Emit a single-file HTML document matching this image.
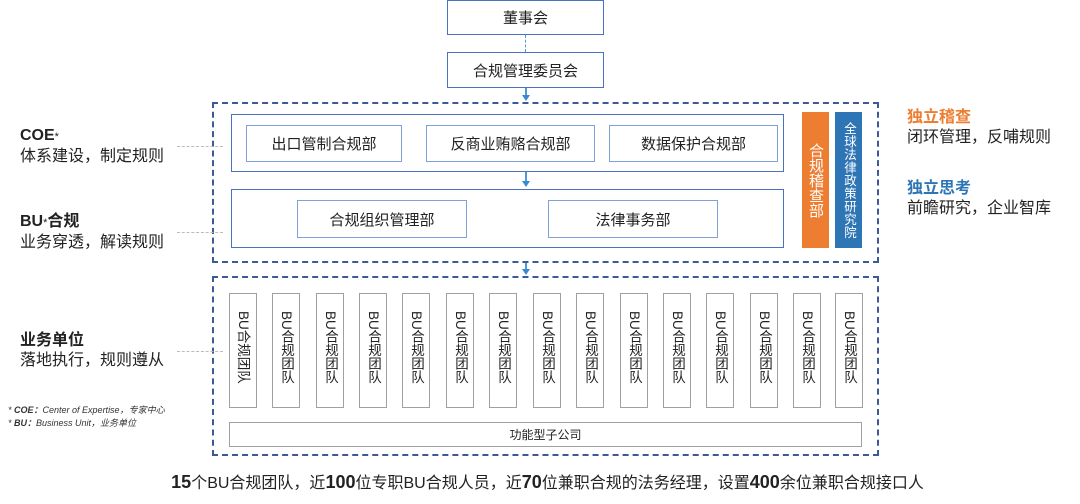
<!DOCTYPE html>
<html><head><meta charset="utf-8"><style>
body{margin:0;width:1080px;height:504px;background:#fff;position:relative;overflow:hidden;font-family:"Liberation Sans","Noto Sans CJK SC",sans-serif;color:#222}
div{box-sizing:border-box}
.a{position:absolute}
.b{position:absolute;border:1.5px solid #4a72c0;background:#fff;display:flex;align-items:center;justify-content:center;font-size:15px}
.i{position:absolute;border:1.5px solid #7fa1d6;display:flex;align-items:center;justify-content:center;font-size:15px;background:#fff}
.d{position:absolute;border:2px dashed #3b5a96}
.g{position:absolute;border:1.5px solid #a0a0a0;background:#fff;padding-top:17px;font-size:13.5px;writing-mode:vertical-rl;line-height:26px;text-align:start}
.v{position:absolute;width:1.5px;background:#4a9ad8}
.ar{position:absolute;width:0;height:0;border-left:4px solid transparent;border-right:4px solid transparent;border-top:6px solid #3a8ad0}
.gl{position:absolute;height:0;border-top:1px dashed #bbb}
.lt{position:absolute;font-size:15px;line-height:20px}
</style></head><body>
<div class="b" style="left:447px;top:0;width:157px;height:35px">董事会</div>
<div class="a" style="left:525px;top:35px;height:17px;border-left:1.5px dashed #4a9ad8"></div>
<div class="b" style="left:447px;top:52px;width:157px;height:36px">合规管理委员会</div>
<div class="v" style="left:525px;top:88px;height:8px"></div><div class="ar" style="left:522px;top:95px"></div>
<div class="d" style="left:212px;top:102px;width:667px;height:161px"></div>
<div class="b" style="left:231px;top:114px;width:553px;height:58px"></div>
<div class="i" style="left:246px;top:125px;width:156px;height:37px">出口管制合规部</div>
<div class="i" style="left:426px;top:125px;width:169px;height:37px">反商业贿赂合规部</div>
<div class="i" style="left:609px;top:125px;width:169px;height:37px">数据保护合规部</div>
<div class="v" style="left:525px;top:172px;height:10px"></div><div class="ar" style="left:522px;top:181px"></div>
<div class="b" style="left:231px;top:189px;width:553px;height:59px"></div>
<div class="i" style="left:297px;top:200px;width:170px;height:38px">合规组织管理部</div>
<div class="i" style="left:548px;top:200px;width:170px;height:38px">法律事务部</div>
<div class="a" style="left:802px;top:112px;width:27px;height:136px;background:#ed7d31;color:#fff;writing-mode:vertical-rl;font-size:15px;display:flex;align-items:center;justify-content:center;line-height:27px">合规稽查部</div>
<div class="a" style="left:835px;top:112px;width:27px;height:136px;background:#2e75b6;color:#fff;writing-mode:vertical-rl;font-size:12.5px;display:flex;align-items:center;justify-content:center;line-height:27px;letter-spacing:0.5px">全球法律政策研究院</div>
<div class="v" style="left:525px;top:263px;height:7px"></div><div class="ar" style="left:522px;top:269px"></div>
<div class="d" style="left:212px;top:276px;width:667px;height:180px"></div>
<div class="g" style="left:229px;top:293px;width:28px;height:115px;text-orientation:sideways">BU合规团队</div>
<div class="g" style="left:272px;top:293px;width:28px;height:115px">BU合规团队</div>
<div class="g" style="left:316px;top:293px;width:28px;height:115px">BU合规团队</div>
<div class="g" style="left:359px;top:293px;width:28px;height:115px">BU合规团队</div>
<div class="g" style="left:402px;top:293px;width:28px;height:115px">BU合规团队</div>
<div class="g" style="left:446px;top:293px;width:28px;height:115px">BU合规团队</div>
<div class="g" style="left:489px;top:293px;width:28px;height:115px">BU合规团队</div>
<div class="g" style="left:533px;top:293px;width:28px;height:115px">BU合规团队</div>
<div class="g" style="left:576px;top:293px;width:28px;height:115px">BU合规团队</div>
<div class="g" style="left:620px;top:293px;width:28px;height:115px">BU合规团队</div>
<div class="g" style="left:663px;top:293px;width:28px;height:115px">BU合规团队</div>
<div class="g" style="left:706px;top:293px;width:28px;height:115px">BU合规团队</div>
<div class="g" style="left:750px;top:293px;width:28px;height:115px">BU合规团队</div>
<div class="g" style="left:793px;top:293px;width:28px;height:115px">BU合规团队</div>
<div class="g" style="left:835px;top:293px;width:28px;height:115px">BU合规团队</div>
<div class="a" style="left:229px;top:422px;width:633px;height:25px;border:1.5px solid #a0a0a0;font-size:12px;display:flex;align-items:center;justify-content:center">功能型子公司</div>
<div class="gl" style="left:177px;top:146px;width:46px"></div>
<div class="gl" style="left:177px;top:232px;width:46px"></div>
<div class="gl" style="left:177px;top:351px;width:46px"></div>
<div class="lt" style="left:20px;top:126px;font-size:16px"><b>COE</b><span style="font-size:11px">*</span><br>体系建设，制定规则</div>
<div class="lt" style="left:20px;top:212px;font-size:16px"><b>BU</b><span style="font-size:11px">*</span><b>合规</b><br>业务穿透，解读规则</div>
<div class="lt" style="left:20px;top:331px;font-size:16px"><b>业务单位</b><br>落地执行，规则遵从</div>
<div class="a" style="left:8px;top:404px;font-size:9px;font-style:italic;line-height:13px;color:#333">* <b>COE：</b>Center of Expertise，专家中心<br>* <b>BU：</b>Business Unit，业务单位</div>
<div class="lt" style="left:907px;top:108px;font-size:16px"><b style="color:#ed7d31">独立稽查</b><br>闭环管理，反哺规则</div>
<div class="lt" style="left:907px;top:179px;font-size:16px"><b style="color:#2e75b6">独立思考</b><br>前瞻研究，企业智库</div>
<div class="a" style="left:0;width:1095px;top:469px;text-align:center;font-size:16px">
<b style="font-size:18px">15</b>个BU合规团队，近<b style="font-size:18px">100</b>位专职BU合规人员，近<b style="font-size:18px">70</b>位兼职合规的法务经理，设置<b style="font-size:18px">400</b>余位兼职合规接口人</div>
</body></html>
